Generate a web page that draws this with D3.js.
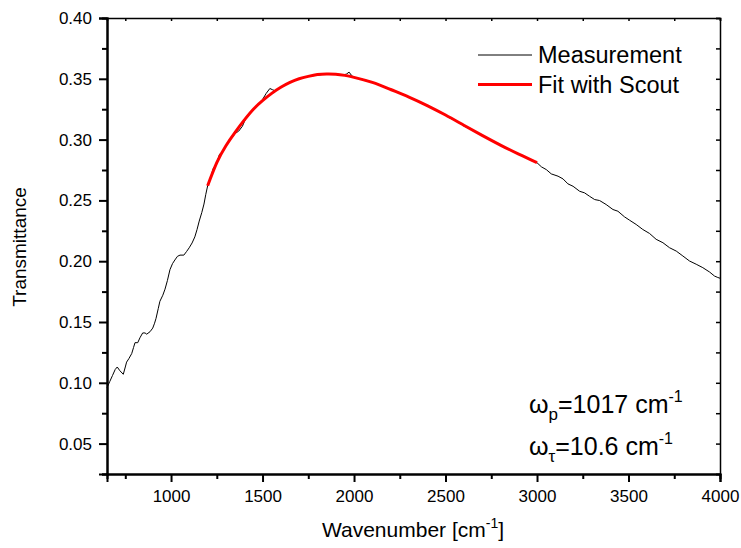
<!DOCTYPE html>
<html>
<head>
<meta charset="utf-8">
<script src="https://cdn.jsdelivr.net/npm/d3@7"></script>
<style>
  html, body { margin: 0; padding: 0; background: #fff; }
  svg { display: block; font-family: "Liberation Sans", Arial, sans-serif; }
</style>
</head>
<body>
<svg id="chart" width="741" height="548"></svg>
<script>
// Measured transmittance spectrum (wavenumber in cm^-1)
const measWavenumber = [
  650, 665, 680, 695, 706, 720, 739, 750, 757, 770, 785, 795, 803, 818, 830, 845, 858, 867, 885, 900,
  910, 918, 930, 939, 955, 967, 980, 994, 1008, 1021, 1035, 1049, 1070, 1085, 1099, 1115, 1130, 1142, 1154, 1168,
  1180, 1190, 1200, 1215, 1230, 1250, 1265, 1280, 1300, 1325, 1350, 1370, 1390, 1410, 1430, 1450, 1475, 1500, 1520, 1540,
  1555, 1570, 1600, 1650, 1700, 1750, 1800, 1850, 1900, 1940, 1960, 1973, 1985, 2000, 2050, 2100, 2150, 2200, 2250, 2300,
  2350, 2400, 2450, 2500, 2520, 2550, 2600, 2650, 2700, 2750, 2790, 2800, 2850, 2900, 2950, 3000, 3024, 3051, 3078, 3115,
  3142, 3169, 3197, 3233, 3260, 3287, 3315, 3342, 3378, 3415, 3442, 3478, 3506, 3542, 3578, 3615, 3651, 3688, 3724, 3761,
  3797, 3833, 3870, 3906, 3943, 3970, 3988, 4000
];
const measTransmittance = [
  0.096, 0.101, 0.106, 0.111, 0.113, 0.110, 0.107, 0.113, 0.117, 0.120, 0.124, 0.129, 0.133, 0.133, 0.137, 0.141, 0.141, 0.140, 0.142, 0.145,
  0.149, 0.153, 0.161, 0.167, 0.172, 0.177, 0.184, 0.193, 0.198, 0.201, 0.204, 0.205, 0.205, 0.208, 0.211, 0.215, 0.220, 0.226, 0.233, 0.240,
  0.247, 0.255, 0.262, 0.268, 0.276, 0.281, 0.288, 0.289, 0.295, 0.300, 0.305, 0.307, 0.311, 0.318, 0.322, 0.325, 0.329, 0.333, 0.338, 0.342,
  0.341, 0.340, 0.343, 0.347, 0.350, 0.352, 0.353, 0.354, 0.354, 0.353, 0.354, 0.3555, 0.353, 0.351, 0.3495, 0.3472, 0.3445, 0.3408, 0.3385, 0.3352,
  0.3313, 0.3280, 0.3238, 0.3205, 0.3180, 0.3160, 0.3112, 0.3076, 0.3032, 0.2995, 0.2968, 0.2958, 0.2915, 0.2882, 0.2846, 0.2810, 0.2776, 0.2753, 0.2718, 0.2699,
  0.2677, 0.2636, 0.2616, 0.2575, 0.2562, 0.2534, 0.2507, 0.2499, 0.2466, 0.2425, 0.2411, 0.2365, 0.2337, 0.2302, 0.2261, 0.2228, 0.2180, 0.2152, 0.2111, 0.2083,
  0.2043, 0.2002, 0.1975, 0.1947, 0.1911, 0.1878, 0.1866, 0.1860
];

// Drude model fit (Scout), 1200 - 3000 cm^-1
const fitWavenumber = [1200, 1250, 1300, 1350, 1400, 1450, 1500, 1550, 1600, 1650, 1700, 1750, 1800, 1850,
  1900, 1950, 2000, 2100, 2200, 2300, 2400, 2500, 2600, 2700, 2800, 2900, 3000];
const fitTransmittance = [0.262, 0.281, 0.295, 0.306, 0.316, 0.325, 0.332, 0.338, 0.343, 0.347, 0.350, 0.352, 0.3535, 0.354,
  0.3538, 0.3528, 0.3512, 0.3470, 0.3412, 0.3350, 0.3280, 0.3202, 0.3118, 0.3035, 0.2955, 0.2880, 0.2810];

const xTicks = [1000, 1500, 2000, 2500, 3000, 3500, 4000];
const yTicks = [0.05, 0.10, 0.15, 0.20, 0.25, 0.30, 0.35, 0.40];
const seriesNames = ["Measurement", "Fit with Scout"];

const svg = d3.select("#chart");
const margin = { left: 107, right: 21, top: 18, bottom: 74 };
const W = 741, H = 548;
const x = d3.scaleLinear().domain([650, 4000]).range([margin.left, W - margin.right]);
const y = d3.scaleLinear().domain([0.025, 0.40]).range([H - margin.bottom, margin.top]);

const xMinor = d3.range(750, 4001, 250).filter(v => !xTicks.includes(v));
const yMinor = d3.range(0.025, 0.401, 0.05).map(v => +v.toFixed(3));

// Bottom axis (major ticks labelled, minor ticks unlabelled, outward)
const gx = svg.append("g").attr("transform", `translate(0,${H - margin.bottom})`);
gx.call(d3.axisBottom(x).tickValues(xTicks).tickSize(8).tickPadding(8).tickFormat(d3.format("d")));
gx.append("g").call(d3.axisBottom(x).tickValues(xMinor).tickSize(5).tickFormat(""));
// Left axis
const gy = svg.append("g").attr("transform", `translate(${margin.left},0)`);
gy.call(d3.axisLeft(y).tickValues(yTicks).tickSize(8).tickPadding(7).tickFormat(d3.format(".2f")));
gy.append("g").call(d3.axisLeft(y).tickValues(yMinor).tickSize(5).tickFormat(""));
// Top and right mirror axes with small inward ticks
const gt = svg.append("g").attr("transform", `translate(0,${margin.top})`);
gt.call(d3.axisBottom(x).tickValues(xTicks.concat(xMinor)).tickSize(3).tickFormat(""));
const gr = svg.append("g").attr("transform", `translate(${W - margin.right},0)`);
gr.call(d3.axisLeft(y).tickValues(yTicks.concat(yMinor)).tickSize(4).tickFormat(""));

svg.selectAll(".domain").attr("stroke", "#000").attr("stroke-width", 2);
svg.selectAll(".tick line").attr("stroke", "#000").attr("stroke-width", 2);
gt.selectAll(".domain, .tick line").attr("stroke-width", 1.5);
gr.selectAll(".domain, .tick line").attr("stroke-width", 1.5);
svg.selectAll(".tick text").attr("font-size", 17).attr("fill", "#000")
  .attr("font-family", "'Liberation Sans', Arial, sans-serif");

// Curves
const line = d3.line().x(d => x(d[0])).y(d => y(d[1]));
const meas = measWavenumber.map((w, i) => [w, measTransmittance[i]]);
const fit = fitWavenumber.map((w, i) => [w, fitTransmittance[i]]);

svg.append("path").datum(meas).attr("d", line)
  .attr("fill", "none").attr("stroke", "#000").attr("stroke-width", 1);
svg.append("path").datum(fit).attr("d", d3.line().curve(d3.curveNatural).x(d => x(d[0])).y(d => y(d[1])))
  .attr("fill", "none").attr("stroke", "#ff0000").attr("stroke-width", 3);

// Legend
const legend = svg.append("g");
const legendStyles = [{ color: "#000", width: 1 }, { color: "#ff0000", width: 3 }];
seriesNames.forEach((name, i) => {
  const yy = 55 + i * 29.5;
  legend.append("line").attr("x1", 478).attr("x2", 532).attr("y1", yy).attr("y2", yy)
    .attr("stroke", legendStyles[i].color).attr("stroke-width", legendStyles[i].width);
  legend.append("text").attr("x", 538).attr("y", yy + 8).attr("font-size", 23.5).attr("fill", "#000").text(name);
});

// Fit parameters
const ann = svg.append("g").attr("font-size", 25).attr("fill", "#000");
const t1 = ann.append("text").attr("x", 529).attr("y", 413);
t1.append("tspan").text("ω");
t1.append("tspan").attr("font-size", 17).attr("dy", 7).text("p");
t1.append("tspan").attr("dy", -7).text("=1017 cm");
t1.append("tspan").attr("font-size", 16).attr("dy", -11).text("-1");
const t2 = ann.append("text").attr("x", 529).attr("y", 455);
t2.append("tspan").text("ω");
t2.append("tspan").attr("font-size", 17).attr("dy", 7).text("τ");
t2.append("tspan").attr("dy", -7).text("=10.6 cm");
t2.append("tspan").attr("font-size", 16).attr("dy", -11).text("-1");

// Axis titles
const xt = svg.append("text").attr("x", 413).attr("y", 537).attr("text-anchor", "middle")
  .attr("font-size", 21).attr("fill", "#000");
xt.append("tspan").text("Wavenumber [cm");
xt.append("tspan").attr("font-size", 14).attr("dy", -9).text("-1");
xt.append("tspan").attr("dy", 9).text("]");

svg.append("text").attr("transform", "translate(26,247) rotate(-90)").attr("text-anchor", "middle")
  .attr("font-size", 19).attr("fill", "#000").text("Transmittance");
</script>
</body>
</html>
